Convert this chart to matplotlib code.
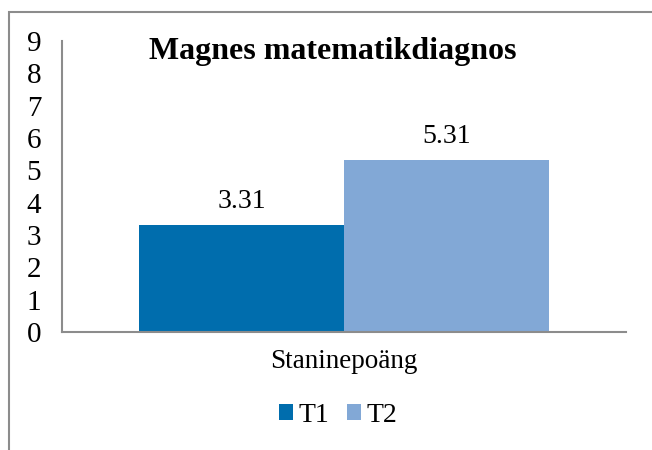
import matplotlib
matplotlib.use('Agg')
from matplotlib import pyplot as plt
from matplotlib.patches import Rectangle

# data
categories = ['Staninepoäng']
series_names = ['T1', 'T2']
t1_values = [3.31]
t2_values = [5.31]
colors = ['#006DAD', '#82A8D6']

plt.rcParams['font.family'] = ['Liberation Serif', 'DejaVu Serif']

fig = plt.figure(figsize=(6.52, 4.5), dpi=100)
ax = fig.add_axes([62/652, 1 - 332/450, (626-62)/652, (332-41)/450])

w = 0.3635
x = [0]
b1 = ax.bar([xi - w/2 for xi in x], t1_values, width=w, color=colors[0], label=series_names[0])
b2 = ax.bar([xi + w/2 for xi in x], t2_values, width=w, color=colors[1], label=series_names[1])

for bars, vals in ((b1, t1_values), (b2, t2_values)):
	for r, v in zip(bars, vals):
		ax.annotate('%.2f' % v, (r.get_x() + r.get_width()/2, v), xytext=(0, 8),
			textcoords='offset points', ha='center', va='bottom', fontsize=20)

ax.set_xlim(-0.5, 0.5)
ax.set_ylim(0, 9)
ax.set_yticks(range(0, 10))
ax.set_xticks(x)
ax.set_xticklabels(categories)
ax.tick_params(axis='y', length=0, pad=15, labelsize=21)
ax.tick_params(axis='x', length=0, pad=12, labelsize=19.5)
for s in ('top', 'right'):
	ax.spines[s].set_visible(False)
for s in ('left', 'bottom'):
	ax.spines[s].set_color('#8c8c8c')
	ax.spines[s].set_linewidth(1.5)

fig.text(333/652, 1 - 52/450, 'Magnes matematikdiagnos', ha='center', va='center',
	fontsize=23, fontweight='bold')

leg = fig.legend(handles=[b1, b2], labels=series_names, loc='center', ncol=2,
	bbox_to_anchor=(338/652, 1 - 415/450), frameon=False, fontsize=20,
	handlelength=0.5, handleheight=0.5, handletextpad=0.2, columnspacing=0.65)

# outer chart border (cropped at right/bottom)
fig.patches.append(Rectangle((9/652, -0.1), 1.2, 1 - 12/450 + 0.1, transform=fig.transFigure,
	fill=False, edgecolor='#8c8c8c', linewidth=1.5))

fig.savefig('out.png', dpi=100)
